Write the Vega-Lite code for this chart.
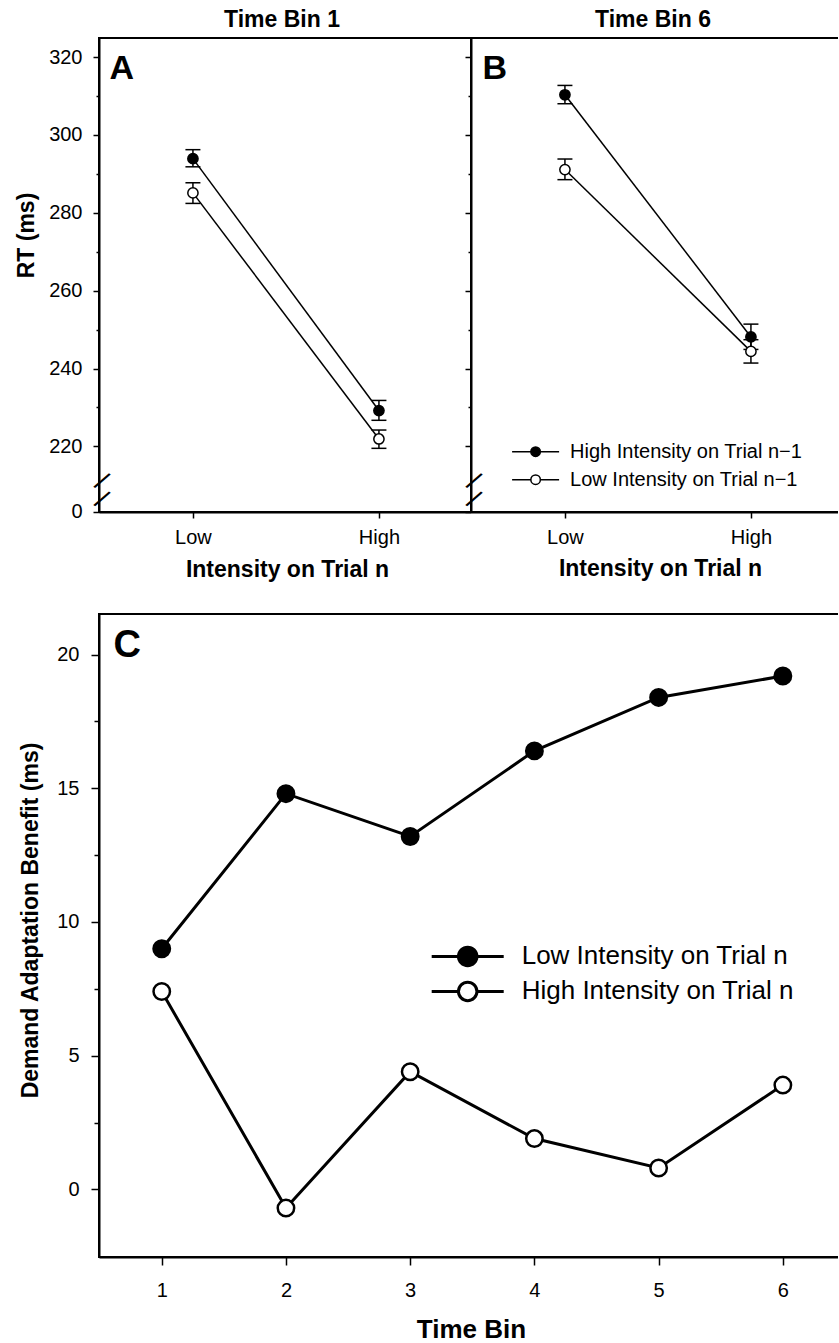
{
  "$schema": "https://vega.github.io/schema/vega-lite/v6.json",
  "usermeta": {"embedOptions": {"actions": false}},
  "background": "white",
  "padding": {"left": 14, "top": 8, "right": -6, "bottom": 0},
  "autosize": {"type": "pad"},
  "datasets": {
    "rt": [
      {"bin": 1, "intensity": 1, "trial_n": "Low", "prev": "High Intensity on Trial n−1", "rt": 293.9, "lo": 291.8, "hi": 296.2},
      {"bin": 1, "intensity": 1, "trial_n": "Low", "prev": "Low Intensity on Trial n−1", "rt": 285.1, "lo": 282.4, "hi": 287.7},
      {"bin": 1, "intensity": 2, "trial_n": "High", "prev": "High Intensity on Trial n−1", "rt": 229.2, "lo": 226.7, "hi": 231.8},
      {"bin": 1, "intensity": 2, "trial_n": "High", "prev": "Low Intensity on Trial n−1", "rt": 221.9, "lo": 219.5, "hi": 224.2},
      {"bin": 6, "intensity": 1, "trial_n": "Low", "prev": "High Intensity on Trial n−1", "rt": 310.3, "lo": 308.0, "hi": 312.7},
      {"bin": 6, "intensity": 1, "trial_n": "Low", "prev": "Low Intensity on Trial n−1", "rt": 291.1, "lo": 288.5, "hi": 293.8},
      {"bin": 6, "intensity": 2, "trial_n": "High", "prev": "High Intensity on Trial n−1", "rt": 248.1, "lo": 244.9, "hi": 251.4},
      {"bin": 6, "intensity": 2, "trial_n": "High", "prev": "Low Intensity on Trial n−1", "rt": 244.4, "lo": 241.4, "hi": 247.4}
    ],
    "benefit": [
      {"bin": 1, "current": "Low Intensity on Trial n", "benefit": 9.0},
      {"bin": 2, "current": "Low Intensity on Trial n", "benefit": 14.8},
      {"bin": 3, "current": "Low Intensity on Trial n", "benefit": 13.2},
      {"bin": 4, "current": "Low Intensity on Trial n", "benefit": 16.4},
      {"bin": 5, "current": "Low Intensity on Trial n", "benefit": 18.4},
      {"bin": 6, "current": "Low Intensity on Trial n", "benefit": 19.2},
      {"bin": 1, "current": "High Intensity on Trial n", "benefit": 7.4},
      {"bin": 2, "current": "High Intensity on Trial n", "benefit": -0.7},
      {"bin": 3, "current": "High Intensity on Trial n", "benefit": 4.4},
      {"bin": 4, "current": "High Intensity on Trial n", "benefit": 1.9},
      {"bin": 5, "current": "High Intensity on Trial n", "benefit": 0.8},
      {"bin": 6, "current": "High Intensity on Trial n", "benefit": 3.9}
    ]
  },
  "spacing": 31,
  "bounds": "full",
  "resolve": {"scale": {"fill": "independent"}, "legend": {"fill": "independent"}},
  "vconcat": [
    {
      "spacing": 0,
      "bounds": "flush",
      "resolve": {"scale": {"fill": "independent"}, "legend": {"fill": "independent"}},
      "hconcat": [
        {
          "width": 372, "height": 474,
          "title": {"text": "Time Bin 1", "dx": -3},
          "data": {"name": "rt"},
          "transform": [{"filter": "datum.bin == 1"}],
          "encoding": {
            "x": {"field": "intensity", "type": "quantitative", "scale": {"domain": [0.495, 2.495], "nice": false, "zero": false}, "axis": null},
            "y": {"field": "rt", "type": "quantitative", "scale": {"domain": [203.15, 324.88], "nice": false, "zero": false}, "axis": null}
          },
          "layer": [
            {
              "mark": {"type": "line", "color": "black", "strokeWidth": 1.5},
              "encoding": {
                "detail": {"field": "prev"},
                "x": {"field": "intensity", "type": "quantitative", "scale": {"domain": [0.495, 2.495], "nice": false, "zero": false},
                  "axis": {"orient": "bottom", "values": [1, 2], "labelExpr": "datum.value == 1 ? 'Low' : 'High'", "tickSize": 6, "labelFontSize": 20, "labelBaseline": "alphabetic", "labelPadding": 25,
                    "title": "Intensity on Trial n", "titleFontSize": 23, "titleFontWeight": "bold", "titleX": 188, "titleY": 64, "titleAlign": "center", "titleBaseline": "alphabetic"}},
                "y": {"field": "rt", "type": "quantitative", "scale": {"domain": [203.15, 324.88], "nice": false, "zero": false},
                  "axis": {"orient": "left", "values": [203.2, 220, 240, 260, 280, 300, 320], "labelExpr": "datum.value < 210 ? '0' : datum.label", "tickSize": 6, "labelPadding": 11, "labelFontSize": 20,
                    "title": "RT (ms)", "titleFontSize": 23, "titleFontWeight": "bold", "titleAngle": 270, "titleX": -66, "titleY": 197, "titleAlign": "center", "titleBaseline": "alphabetic"}}
              }
            },
            {
              "mark": {"type": "rule", "color": "black", "strokeWidth": 1.5},
              "encoding": {
                "y": {"field": "lo", "type": "quantitative", "scale": {"domain": [203.15, 324.88], "nice": false, "zero": false},
                  "axis": {"orient": "left", "values": [206.3, 211.0], "labelExpr": "'/'", "ticks": false, "domain": false, "tickSize": 0, "labelPadding": -1.5, "labelAngle": 34, "labelAlign": "center", "labelBaseline": "middle", "labelFontSize": 27, "title": null}},
                "y2": {"field": "hi"}
              }
            },
            {
              "mark": {"type": "tick", "orient": "horizontal", "size": 15, "thickness": 1.5, "color": "black", "opacity": 1},
              "encoding": {"y": {"field": "lo", "type": "quantitative", "scale": {"domain": [203.15, 324.88], "nice": false, "zero": false}, "axis": null}}
            },
            {
              "mark": {"type": "tick", "orient": "horizontal", "size": 15, "thickness": 1.5, "color": "black", "opacity": 1},
              "encoding": {"y": {"field": "hi", "type": "quantitative", "scale": {"domain": [203.15, 324.88], "nice": false, "zero": false}, "axis": null}}
            },
            {
              "mark": {"type": "point", "shape": "circle", "filled": true, "stroke": "black", "strokeWidth": 1.5, "size": 105, "opacity": 1},
              "encoding": {
                "fill": {"field": "prev", "type": "nominal", "scale": {"domain": ["High Intensity on Trial n−1", "Low Intensity on Trial n−1"], "range": ["black", "white"]}, "legend": null},
                "x": {"field": "intensity", "type": "quantitative", "scale": {"domain": [0.495, 2.495], "nice": false, "zero": false},
                  "axis": {"orient": "top", "ticks": false, "labels": false, "domain": false, "title": "A", "titleFontSize": 34, "titleFontWeight": "bold", "titleX": 10, "titleY": 40, "titleAlign": "left", "titleBaseline": "alphabetic", "titleAngle": 0}},
                "y": {"field": "rt", "type": "quantitative", "scale": {"domain": [203.15, 324.88], "nice": false, "zero": false},
                  "axis": {"orient": "left", "values": [230, 250, 270, 290, 310], "tickSize": 3, "labels": false, "domain": false, "title": null}}
              }
            }
          ],
          "resolve": {"axis": {"x": "independent", "y": "independent"}}
        },
        {
          "width": 372, "height": 474,
          "title": {"text": "Time Bin 6", "dx": -4},
          "data": {"name": "rt"},
          "transform": [{"filter": "datum.bin == 6"}],
          "encoding": {
            "x": {"field": "intensity", "type": "quantitative", "scale": {"domain": [0.495, 2.495], "nice": false, "zero": false}, "axis": null},
            "y": {"field": "rt", "type": "quantitative", "scale": {"domain": [203.15, 324.88], "nice": false, "zero": false}, "axis": null}
          },
          "layer": [
            {
              "mark": {"type": "line", "color": "black", "strokeWidth": 1.5},
              "encoding": {
                "detail": {"field": "prev"},
                "x": {"field": "intensity", "type": "quantitative", "scale": {"domain": [0.495, 2.495], "nice": false, "zero": false},
                  "axis": {"orient": "bottom", "values": [1, 2], "labelExpr": "datum.value == 1 ? 'Low' : 'High'", "tickSize": 6, "labelFontSize": 20, "labelBaseline": "alphabetic", "labelPadding": 25,
                    "title": "Intensity on Trial n", "titleFontSize": 23, "titleFontWeight": "bold", "titleX": 189, "titleY": 63, "titleAlign": "center", "titleBaseline": "alphabetic"}},
                "y": {"field": "rt", "type": "quantitative", "scale": {"domain": [203.15, 324.88], "nice": false, "zero": false},
                  "axis": {"orient": "left", "values": [203.2, 220, 240, 260, 280, 300, 320], "tickSize": 6, "labels": false, "title": null}}
              }
            },
            {
              "mark": {"type": "rule", "color": "black", "strokeWidth": 1.5},
              "encoding": {
                "y": {"field": "lo", "type": "quantitative", "scale": {"domain": [203.15, 324.88], "nice": false, "zero": false},
                  "axis": {"orient": "left", "values": [206.3, 211.0], "labelExpr": "'/'", "ticks": false, "domain": false, "tickSize": 0, "labelPadding": -1.5, "labelAngle": 34, "labelAlign": "center", "labelBaseline": "middle", "labelFontSize": 27, "title": null}},
                "y2": {"field": "hi"}
              }
            },
            {
              "mark": {"type": "tick", "orient": "horizontal", "size": 15, "thickness": 1.5, "color": "black", "opacity": 1},
              "encoding": {"y": {"field": "lo", "type": "quantitative", "scale": {"domain": [203.15, 324.88], "nice": false, "zero": false}, "axis": null}}
            },
            {
              "mark": {"type": "tick", "orient": "horizontal", "size": 15, "thickness": 1.5, "color": "black", "opacity": 1},
              "encoding": {"y": {"field": "hi", "type": "quantitative", "scale": {"domain": [203.15, 324.88], "nice": false, "zero": false}, "axis": null}}
            },
            {
              "mark": {"type": "point", "shape": "circle", "filled": true, "stroke": "black", "strokeWidth": 1.5, "size": 105, "opacity": 1},
              "encoding": {
                "fill": {"field": "prev", "type": "nominal", "scale": {"domain": ["High Intensity on Trial n−1", "Low Intensity on Trial n−1"], "range": ["black", "white"]},
                  "legend": {"title": null, "orient": "none", "legendX": 53.6, "legendY": 402.7,
                    "symbolType": "M-2.35,0L-0.475,0M0.475,0A0.475,0.475,0,1,1,-0.475,0A0.475,0.475,0,1,1,0.475,0M0.475,0L2.35,0",
                    "symbolSize": 400, "symbolStrokeColor": "black", "symbolStrokeWidth": 1.5, "symbolOpacity": 1,
                    "labelFontSize": 20, "labelOffset": 23.5, "rowPadding": 7, "labelColor": "black", "labelLimit": 400,
                    "encode": {"symbols": {"update": {"stroke": {"value": "black"}, "strokeWidth": {"value": 1.5}, "opacity": {"value": 1}}}}}},
                "x": {"field": "intensity", "type": "quantitative", "scale": {"domain": [0.495, 2.495], "nice": false, "zero": false},
                  "axis": {"orient": "top", "ticks": false, "labels": false, "domain": false, "title": "B", "titleFontSize": 34, "titleFontWeight": "bold", "titleX": 11, "titleY": 40, "titleAlign": "left", "titleBaseline": "alphabetic", "titleAngle": 0}},
                "y": {"field": "rt", "type": "quantitative", "scale": {"domain": [203.15, 324.88], "nice": false, "zero": false},
                  "axis": {"orient": "left", "values": [230, 250, 270, 290, 310], "tickSize": 3, "labels": false, "domain": false, "title": null}}
              }
            }
          ],
          "resolve": {"axis": {"x": "independent", "y": "independent"}}
        }
      ]
    },
    {
      "width": 741, "height": 643,
      "data": {"name": "benefit"},
      "encoding": {
        "x": {"field": "bin", "type": "quantitative", "scale": {"domain": [0.495, 6.46], "nice": false, "zero": false}, "axis": null},
        "y": {"field": "benefit", "type": "quantitative", "scale": {"domain": [-2.53, 21.52], "nice": false, "zero": false}, "axis": null}
      },
      "layer": [
        {
          "mark": {"type": "line", "color": "black", "strokeWidth": 3},
          "encoding": {
            "detail": {"field": "current"},
            "x": {"field": "bin", "type": "quantitative", "scale": {"domain": [0.495, 6.46], "nice": false, "zero": false},
              "axis": {"orient": "bottom", "values": [1, 2, 3, 4, 5, 6], "tickSize": 8, "labelFontSize": 20, "labelBaseline": "alphabetic", "labelPadding": 31,
                "title": "Time Bin", "titleFontSize": 26, "titleFontWeight": "bold", "titleX": 372, "titleY": 80, "titleAlign": "center", "titleBaseline": "alphabetic"}},
            "y": {"field": "benefit", "type": "quantitative", "scale": {"domain": [-2.53, 21.52], "nice": false, "zero": false},
              "axis": {"orient": "left", "values": [0, 5, 10, 15, 20], "tickSize": 8, "labelPadding": 12, "labelFontSize": 20,
                "title": "Demand Adaptation Benefit (ms)", "titleFontSize": 23, "titleFontWeight": "bold", "titleAngle": 270, "titleX": -62, "titleY": 306, "titleAlign": "center", "titleBaseline": "alphabetic"}}
          }
        },
        {
          "mark": {"type": "point", "shape": "circle", "filled": true, "stroke": "black", "strokeWidth": 2.5, "size": 270, "opacity": 1},
          "encoding": {
            "fill": {"field": "current", "type": "nominal", "scale": {"domain": ["Low Intensity on Trial n", "High Intensity on Trial n"], "range": ["black", "white"]},
              "legend": {"title": null, "orient": "none", "legendX": 354.2, "legendY": 327.9,
                "symbolType": "M-2.77,0L-0.71,0M0.71,0A0.71,0.71,0,1,1,-0.71,0A0.71,0.71,0,1,1,0.71,0M0.71,0L2.77,0",
                "symbolSize": 676, "symbolStrokeColor": "black", "symbolStrokeWidth": 3, "symbolOpacity": 1,
                "labelFontSize": 26, "labelOffset": 39.5, "rowPadding": 4, "labelColor": "black", "labelLimit": 500,
                "encode": {"symbols": {"update": {"stroke": {"value": "black"}, "strokeWidth": {"value": 3}, "opacity": {"value": 1}}}}}},
            "x": {"field": "bin", "type": "quantitative", "scale": {"domain": [0.495, 6.46], "nice": false, "zero": false},
              "axis": {"orient": "top", "ticks": false, "labels": false, "domain": false, "title": "C", "titleFontSize": 38, "titleFontWeight": "bold", "titleX": 14, "titleY": 42, "titleAlign": "left", "titleBaseline": "alphabetic", "titleAngle": 0}},
            "y": {"field": "benefit", "type": "quantitative", "scale": {"domain": [-2.53, 21.52], "nice": false, "zero": false},
              "axis": {"orient": "left", "values": [2.5, 7.5, 12.5, 17.5], "tickSize": 5, "labels": false, "domain": false, "title": null}}
          }
        }
      ],
      "resolve": {"axis": {"x": "independent", "y": "independent"}}
    }
  ],
  "config": {
    "font": "Liberation Sans",
    "view": {"stroke": "black", "strokeWidth": 2},
    "axis": {"domainColor": "black", "domainWidth": 2, "tickColor": "black", "tickWidth": 1.5, "labelColor": "black", "titleColor": "black", "labelFont": "Liberation Sans", "titleFont": "Liberation Sans", "grid": false, "labelFlush": false, "labelOverlap": false},
    "legend": {"labelFont": "Liberation Sans"},
    "title": {"font": "Liberation Sans", "fontSize": 23, "fontWeight": "bold", "color": "black", "anchor": "middle", "baseline": "alphabetic", "offset": 6}
  }
}
